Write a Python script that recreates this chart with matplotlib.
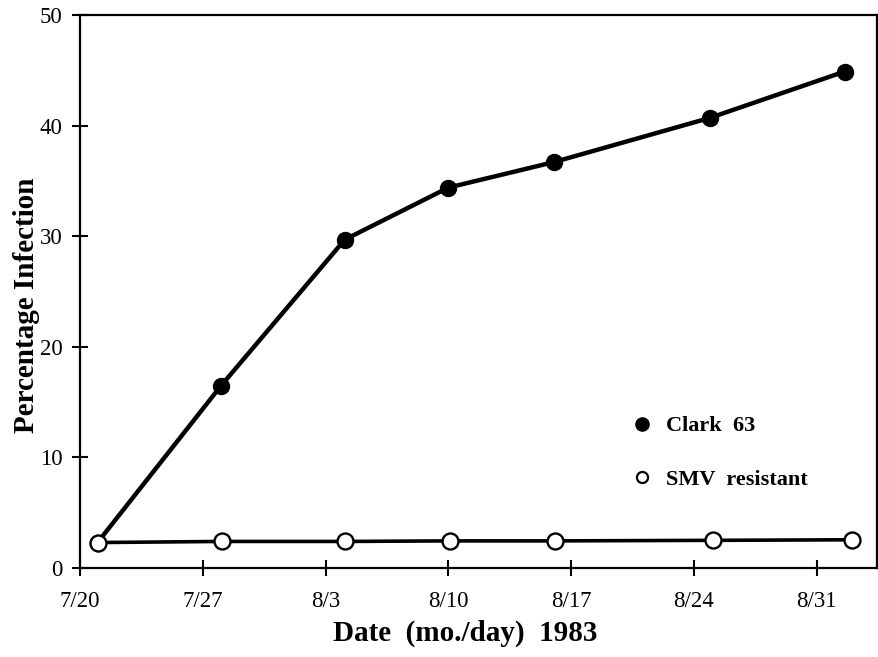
import matplotlib
matplotlib.use("Agg")
import matplotlib.pyplot as plt
from matplotlib.lines import Line2D

# Days after 7/20/1983
clark_days = [1.0, 8.05, 15.1, 21.0, 27.0, 35.9, 43.6]
clark_vals = [2.3, 16.5, 29.7, 34.4, 36.7, 40.7, 44.9]
smv_days = [1.0, 8.1, 15.1, 21.1, 27.1, 36.1, 44.0]
smv_vals = [2.3, 2.4, 2.4, 2.45, 2.45, 2.5, 2.55]

tick_days = [0, 7, 14, 21, 28, 35, 42]
tick_labels = ["7/20", "7/27", "8/3", "8/10", "8/17", "8/24", "8/31"]
y_ticks = [0, 10, 20, 30, 40, 50]

plt.rcParams['font.family'] = ['Liberation Serif', 'DejaVu Serif']

fig = plt.figure(figsize=(8.79, 6.57), dpi=100)
ax = fig.add_axes([0.091, 0.1355, 0.907, 0.8415])

ax.plot(clark_days, clark_vals, color='black', lw=3.2, marker='o', ms=11.5,
        mfc='black', mec='black', zorder=3, solid_capstyle='round')
ax.plot(smv_days, smv_vals, color='black', lw=2.6, marker='o', ms=11.5,
        mfc='white', mec='black', mew=1.7, zorder=4)

ax.set_xlim(0, 45.45)
ax.set_ylim(0, 50)
ax.set_xticks(tick_days)
ax.set_xticklabels(tick_labels)
ax.set_yticks(y_ticks)
ax.tick_params(axis='both', direction='inout', length=11, width=1.5,
               labelsize=16.5, colors='black')
ax.tick_params(axis='x', pad=11)
ax.tick_params(axis='y', pad=7)
for s in ax.spines.values():
    s.set_linewidth(1.6)

ax.set_xlabel("Date  (mo./day)  1983", fontsize=21, fontweight='bold')
ax.set_ylabel("Percentage Infection", fontsize=21, fontweight='bold')
ax.xaxis.set_label_coords(0.483, -0.1175)
ax.yaxis.set_label_coords(-0.0665, 0.4756)
ax.xaxis.label.set_va('center')
ax.yaxis.label.set_va('center')

handles = [
    Line2D([], [], ls='none', marker='o', ms=9.5, mfc='black', mec='black'),
    Line2D([], [], ls='none', marker='o', ms=8, mfc='white', mec='black', mew=1.6),
]
leg = ax.legend(handles, ["Clark  63", "SMV  resistant"], loc='center left',
                bbox_to_anchor=(0.677, 0.208), frameon=False,
                prop={'size': 16, 'weight': 'bold'}, handlelength=1.0,
                handletextpad=0.6, borderpad=0, labelspacing=1.5)

fig.savefig("out.png", dpi=100)
